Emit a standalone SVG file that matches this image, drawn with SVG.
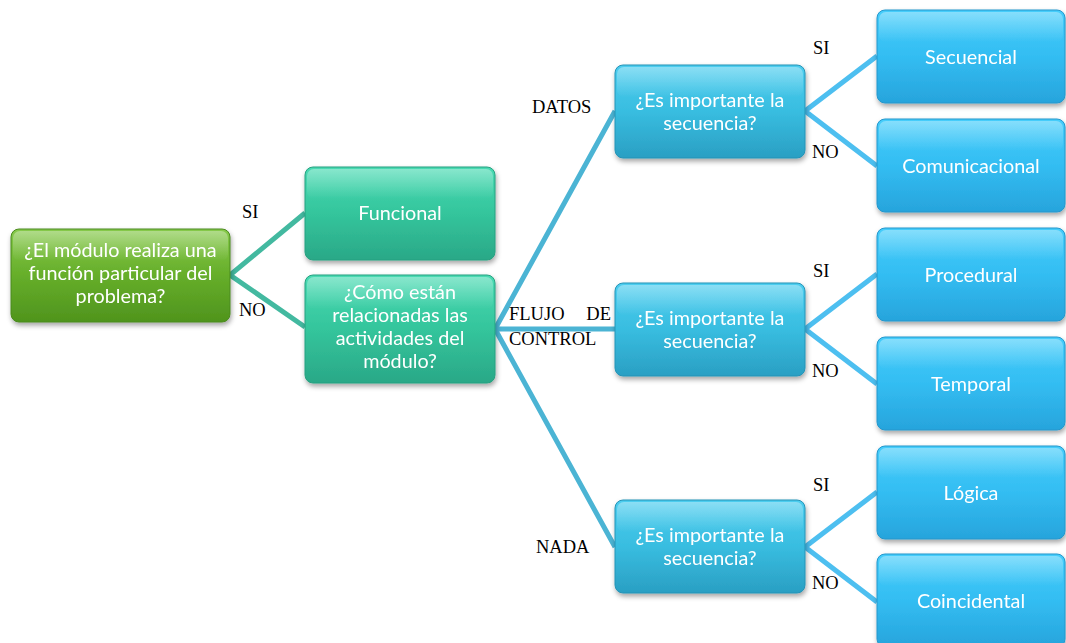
<svg xmlns="http://www.w3.org/2000/svg" width="1066" height="643" viewBox="0 0 1066 643">
  <defs>
    <linearGradient id="gGreen" x1="0" y1="0" x2="0" y2="1">
      <stop offset="0" stop-color="#86c94a"/>
      <stop offset="0.5" stop-color="#66ae2a"/>
      <stop offset="1" stop-color="#4f941d"/>
    </linearGradient>
    <linearGradient id="gTeal" x1="0" y1="0" x2="0" y2="1">
      <stop offset="0" stop-color="#48dab2"/>
      <stop offset="0.5" stop-color="#34c59c"/>
      <stop offset="1" stop-color="#2aa887"/>
    </linearGradient>
    <linearGradient id="gMid" x1="0" y1="0" x2="0" y2="1">
      <stop offset="0" stop-color="#4ccdef"/>
      <stop offset="0.5" stop-color="#38bde0"/>
      <stop offset="1" stop-color="#2a9fc3"/>
    </linearGradient>
    <linearGradient id="gLeaf" x1="0" y1="0" x2="0" y2="1">
      <stop offset="0" stop-color="#45cdfb"/>
      <stop offset="0.5" stop-color="#33bdf2"/>
      <stop offset="1" stop-color="#27a4dc"/>
    </linearGradient>
    <linearGradient id="gShine" x1="0" y1="0" x2="0" y2="1">
      <stop offset="0" stop-color="#ffffff" stop-opacity="0.35"/>
      <stop offset="1" stop-color="#ffffff" stop-opacity="0"/>
    </linearGradient>
    <filter id="shadow" x="-10%" y="-10%" width="125%" height="130%">
      <feDropShadow dx="1" dy="3" stdDeviation="2.5" flood-color="#000000" flood-opacity="0.35"/>
    </filter>
  </defs>
  <style>
    .box { filter: url(#shadow); }
    .green { fill: url(#gGreen); stroke: #4a8a1e; stroke-width: 1; }
    .teal { fill: url(#gTeal); stroke: #27a080; stroke-width: 1; }
    .mid { fill: url(#gMid); stroke: #2593b6; stroke-width: 1; }
    .leaf { fill: url(#gLeaf); stroke: #2497cc; stroke-width: 1; }
    .shine { fill: url(#gShine); }
    .t { font-family: Lato, "Open Sans", "Liberation Sans", sans-serif; font-size: 19.8px; fill: #ffffff; text-anchor: middle; }
    .lbl { font-family: "Liberation Serif", "Times New Roman", serif; font-size: 18.5px; fill: #000000; }
    .c1 { stroke: #43b9a0; stroke-width: 5; fill: none; }
    .c2 { stroke: #4bb4d4; stroke-width: 5; fill: none; }
    .c3 { stroke: #4dbff0; stroke-width: 5; fill: none; }
  </style>

  <!-- connectors -->
  <g id="connectors">
    <path class="c1" d="M305,213 L230,275 L305,327"/>
    <path class="c2" d="M615,111 L495,329 L615,547 M495,329 L615,329"/>
    <path class="c3" d="M877,56 L805,111 L877,166"/>
    <path class="c3" d="M877,274 L805,329 L877,384"/>
    <path class="c3" d="M877,492 L805,547 L877,602"/>
  </g>

  <!-- branch labels -->
  <g id="labels">
    <text class="lbl" x="242" y="218">SI</text>
    <text class="lbl" x="239" y="316">NO</text>
    <text class="lbl" x="532" y="113">DATOS</text>
    <text class="lbl" x="509" y="320">FLUJO</text>
    <text class="lbl" x="611" y="320" text-anchor="end">DE</text>
    <text class="lbl" x="509" y="345">CONTROL</text>
    <text class="lbl" x="536" y="553">NADA</text>
    <text class="lbl" x="813" y="54">SI</text>
    <text class="lbl" x="812" y="158">NO</text>
    <text class="lbl" x="813" y="277">SI</text>
    <text class="lbl" x="812" y="377">NO</text>
    <text class="lbl" x="813" y="491">SI</text>
    <text class="lbl" x="812" y="589">NO</text>
  </g>

  <!-- root question -->
  <g id="root" class="box">
    <rect class="green" x="11" y="229" width="219" height="93" rx="8"/>
    <rect class="shine" x="13" y="231" width="215" height="30" rx="7"/>
    <text class="t" x="120.5" y="257">¿El módulo realiza una</text>
    <text class="t" x="120.5" y="280">función particular del</text>
    <text class="t" x="120.5" y="303">problema?</text>
  </g>

  <g id="funcional" class="box">
    <rect class="teal" x="305" y="167" width="190" height="93" rx="8"/>
    <rect class="shine" x="307" y="169" width="186" height="30" rx="7"/>
    <text class="t" x="400" y="220">Funcional</text>
  </g>

  <g id="relacion" class="box">
    <rect class="teal" x="305" y="275" width="190" height="108" rx="8"/>
    <rect class="shine" x="307" y="277" width="186" height="32" rx="7"/>
    <text class="t" x="400" y="299">¿Cómo están</text>
    <text class="t" x="400" y="322">relacionadas las</text>
    <text class="t" x="400" y="345">actividades del</text>
    <text class="t" x="400" y="368">módulo?</text>
  </g>

  <!-- sequence questions -->
  <g id="seq-datos" class="box">
    <rect class="mid" x="615" y="65" width="190" height="93" rx="8"/>
    <rect class="shine" x="617" y="67" width="186" height="30" rx="7"/>
    <text class="t" x="710" y="107">¿Es importante la</text>
    <text class="t" x="710" y="130">secuencia?</text>
  </g>

  <g id="seq-control" class="box">
    <rect class="mid" x="615" y="283" width="190" height="93" rx="8"/>
    <rect class="shine" x="617" y="285" width="186" height="30" rx="7"/>
    <text class="t" x="710" y="325">¿Es importante la</text>
    <text class="t" x="710" y="348">secuencia?</text>
  </g>

  <g id="seq-nada" class="box">
    <rect class="mid" x="615" y="500" width="190" height="93" rx="8"/>
    <rect class="shine" x="617" y="502" width="186" height="30" rx="7"/>
    <text class="t" x="710" y="542">¿Es importante la</text>
    <text class="t" x="710" y="565">secuencia?</text>
  </g>

  <!-- cohesion types -->
  <g id="secuencial" class="box">
    <rect class="leaf" x="877" y="10" width="188" height="93" rx="8"/>
    <rect class="shine" x="879" y="12" width="184" height="30" rx="7"/>
    <text class="t" x="971" y="64">Secuencial</text>
  </g>

  <g id="comunicacional" class="box">
    <rect class="leaf" x="877" y="119" width="188" height="93" rx="8"/>
    <rect class="shine" x="879" y="121" width="184" height="30" rx="7"/>
    <text class="t" x="971" y="173">Comunicacional</text>
  </g>

  <g id="procedural" class="box">
    <rect class="leaf" x="877" y="228" width="188" height="93" rx="8"/>
    <rect class="shine" x="879" y="230" width="184" height="30" rx="7"/>
    <text class="t" x="971" y="282">Procedural</text>
  </g>

  <g id="temporal" class="box">
    <rect class="leaf" x="877" y="337" width="188" height="93" rx="8"/>
    <rect class="shine" x="879" y="339" width="184" height="30" rx="7"/>
    <text class="t" x="971" y="391">Temporal</text>
  </g>

  <g id="logica" class="box">
    <rect class="leaf" x="877" y="446" width="188" height="93" rx="8"/>
    <rect class="shine" x="879" y="448" width="184" height="30" rx="7"/>
    <text class="t" x="971" y="500">Lógica</text>
  </g>

  <g id="coincidental" class="box">
    <rect class="leaf" x="877" y="554" width="188" height="93" rx="8"/>
    <rect class="shine" x="879" y="556" width="184" height="30" rx="7"/>
    <text class="t" x="971" y="608">Coincidental</text>
  </g>
</svg>
